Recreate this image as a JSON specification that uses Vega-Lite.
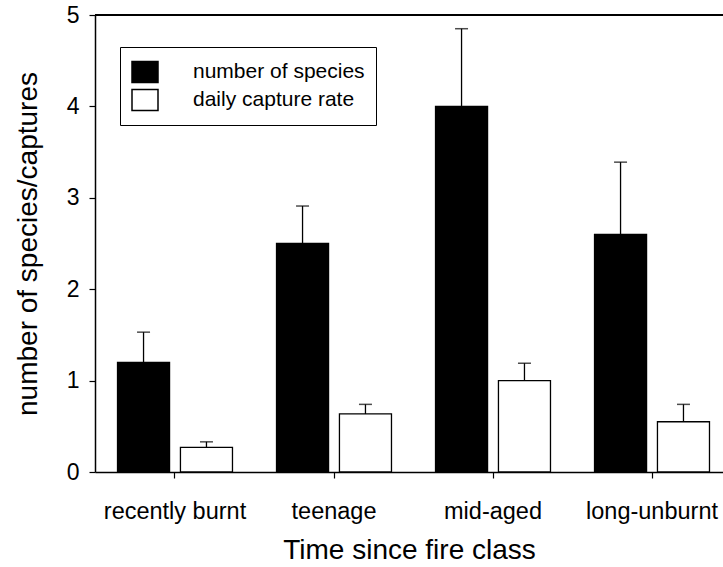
{
  "$schema": "https://vega.github.io/schema/vega-lite/v6.json",
  "autosize": {"type": "none"},
  "padding": {"left": 95, "top": 15, "right": 0, "bottom": 95},
  "width": 628,
  "height": 457,
  "background": "white",
  "config": {
    "view": {"stroke": null},
    "font": "Liberation Sans",
    "axis": {"labelColor": "black", "titleColor": "black", "domainColor": "black", "tickColor": "black", "domainWidth": 1.5, "tickWidth": 1.2, "titleFontWeight": "normal", "grid": false, "labelFont": "Liberation Sans", "titleFont": "Liberation Sans"}
  },
  "data": {
    "values": [
      {"class": "recently burnt", "measure": "number of species", "value": 1.2, "upper": 1.53},
      {"class": "recently burnt", "measure": "daily capture rate", "value": 0.27, "upper": 0.33},
      {"class": "teenage", "measure": "number of species", "value": 2.5, "upper": 2.91},
      {"class": "teenage", "measure": "daily capture rate", "value": 0.635, "upper": 0.74},
      {"class": "mid-aged", "measure": "number of species", "value": 4.0, "upper": 4.85},
      {"class": "mid-aged", "measure": "daily capture rate", "value": 1.0, "upper": 1.19},
      {"class": "long-unburnt", "measure": "number of species", "value": 2.6, "upper": 3.39},
      {"class": "long-unburnt", "measure": "daily capture rate", "value": 0.55, "upper": 0.74}
    ]
  },
  "layer": [
    {
      "encoding": {
        "x": {
          "field": "class", "type": "nominal",
          "sort": ["recently burnt", "teenage", "mid-aged", "long-unburnt"],
          "scale": {"paddingInner": 0.277, "paddingOuter": 0.1133, "align": 0.625},
          "axis": {"title": "Time since fire class", "labelAngle": 0, "labelFontSize": 23.5, "titleFontSize": 28, "tickSize": 6, "labelPadding": 21, "titlePadding": 14}
        },
        "xOffset": {
          "field": "measure", "type": "nominal",
          "sort": ["number of species", "daily capture rate"],
          "scale": {"paddingInner": 0.173, "paddingOuter": 0}
        }
      },
      "layer": [
        {
          "mark": {"type": "bar", "stroke": "black", "strokeWidth": 1.3},
          "encoding": {
            "y": {
              "field": "value", "type": "quantitative",
              "scale": {"domain": [0, 5], "nice": false},
              "axis": {"title": "number of species/captures", "values": [0, 1, 2, 3, 4, 5], "format": "d", "labelFontSize": 23, "titleFontSize": 28, "tickSize": 6, "labelPadding": 10, "titlePadding": 24}
            },
            "color": {
              "field": "measure", "type": "nominal",
              "scale": {"domain": ["number of species", "daily capture rate"], "range": ["black", "white"]},
              "legend": {
                "title": null, "orient": "none", "legendX": 25, "legendY": 32,
                "strokeColor": "black", "fillColor": "white", "padding": 11,
                "symbolType": "M-1,-0.8H1V0.8H-1Z", "symbolSize": 676,
                "symbolStrokeColor": "black", "symbolStrokeWidth": 1.5, "symbolOpacity": 1,
                "labelFontSize": 21, "labelColor": "black", "labelOffset": 34, "labelLimit": 400, "rowPadding": -2
              }
            }
          }
        },
        {
          "mark": {"type": "rule", "color": "black", "strokeWidth": 1.3},
          "encoding": {
            "y": {"field": "value", "type": "quantitative"},
            "y2": {"field": "upper"}
          }
        },
        {
          "mark": {"type": "tick", "color": "black", "size": 13, "thickness": 1.5, "orient": "horizontal"},
          "encoding": {
            "y": {"field": "upper", "type": "quantitative"}
          }
        }
      ]
    },
    {
      "mark": {"type": "rule", "color": "black", "strokeWidth": 1.5},
      "encoding": {"y": {"datum": 5}}
    }
  ]
}
